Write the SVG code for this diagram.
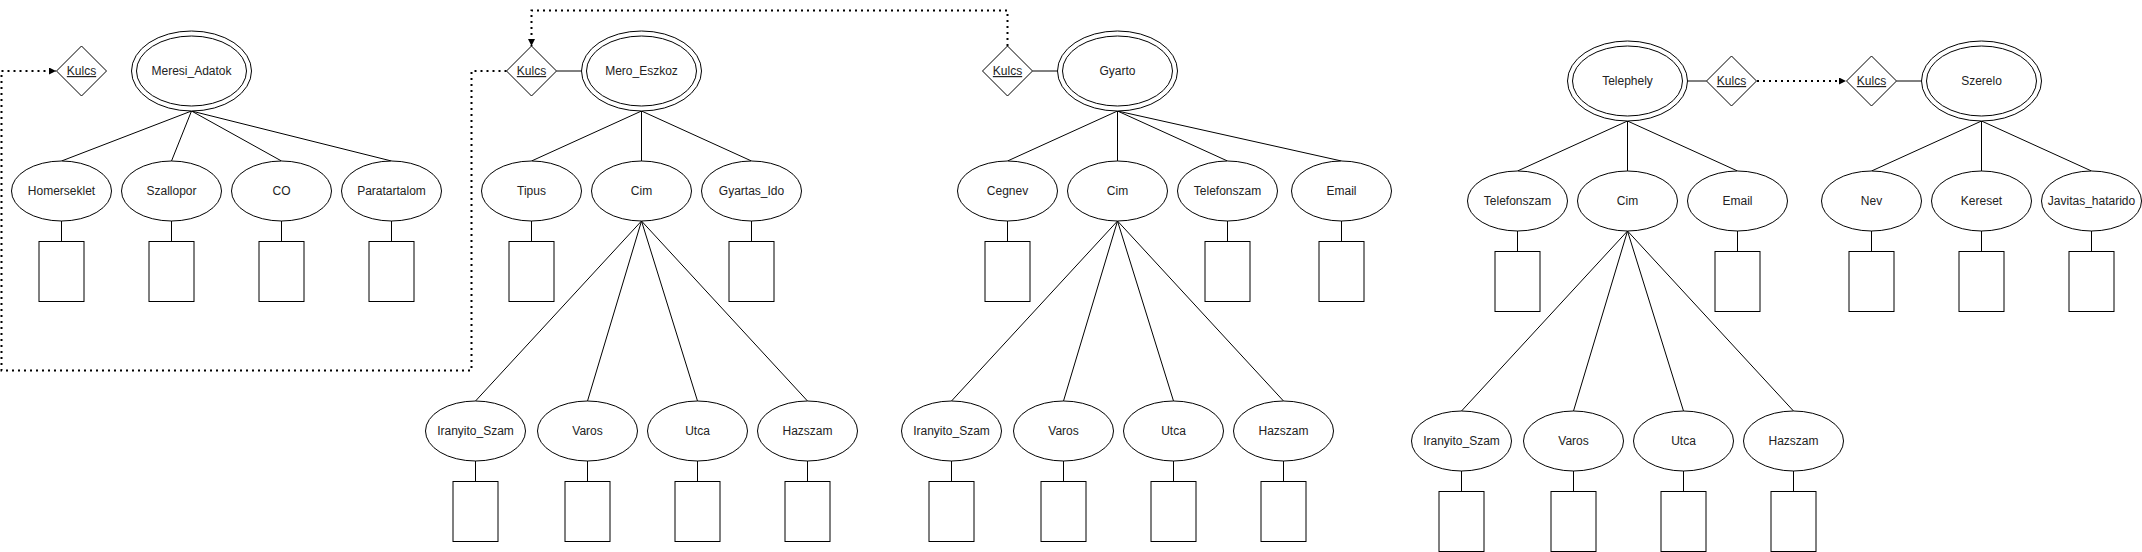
<svg xmlns="http://www.w3.org/2000/svg" width="2142" height="552" viewBox="0 0 2142 552">
<defs>
<style>
.s{fill:#fff;stroke:#000;stroke-width:1}
.n{fill:none;stroke:#000;stroke-width:1}
.l{stroke:#000;stroke-width:1;fill:none}
.d{stroke:#000;stroke-width:2;fill:none;stroke-dasharray:2 4}
text{font-family:"Liberation Sans",Arial,sans-serif;font-size:12px;fill:#222;text-anchor:middle}
.u{text-decoration:underline}
</style>
<marker id="arr" markerUnits="userSpaceOnUse" markerWidth="8" markerHeight="8" refX="7" refY="3.5" orient="auto">
<path d="M0,0 L7,3.5 L0,7 Z" fill="#000"/>
</marker>
</defs>
<rect width="2142" height="552" fill="#fff"/>

<g id="connectors">
<path class="d" d="M506.5 71 L471.5 71 L471.5 370.5 L1.5 370.5 L1.5 71 L56 71" marker-end="url(#arr)"/>
<path class="d" d="M1007.5 46 L1007.5 10.5 L531.5 10.5 L531.5 46" marker-end="url(#arr)"/>
<path class="d" d="M1757 81 L1846 81" marker-end="url(#arr)"/>
<path class="l" d="M191.5 111 L61.5 161 M191.5 111 L171.5 161 M191.5 111 L281.5 161 M191.5 111 L391.5 161"/>
<path class="l" d="M61.5 221 V241.5 M171.5 221 V241.5 M281.5 221 V241.5 M391.5 221 V241.5"/>
<path class="l" d="M556.5 71 H581.5"/>
<path class="l" d="M641.5 111 L531.5 161 M641.5 111 L641.5 161 M641.5 111 L751.5 161"/>
<path class="l" d="M531.5 221 V241.5 M751.5 221 V241.5"/>
<path class="l" d="M641.5 221 L475.5 401 M641.5 221 L587.5 401 M641.5 221 L697.5 401 M641.5 221 L807.5 401"/>
<path class="l" d="M475.5 461 V481.5 M587.5 461 V481.5 M697.5 461 V481.5 M807.5 461 V481.5"/>
<path class="l" d="M1032.5 71 H1057.5"/>
<path class="l" d="M1117.5 111 L1007.5 161 M1117.5 111 L1117.5 161 M1117.5 111 L1227.5 161 M1117.5 111 L1341.5 161"/>
<path class="l" d="M1007.5 221 V241.5 M1227.5 221 V241.5 M1341.5 221 V241.5"/>
<path class="l" d="M1117.5 221 L951.5 401 M1117.5 221 L1063.5 401 M1117.5 221 L1173.5 401 M1117.5 221 L1283.5 401"/>
<path class="l" d="M951.5 461 V481.5 M1063.5 461 V481.5 M1173.5 461 V481.5 M1283.5 461 V481.5"/>
<path class="l" d="M1687.5 81 H1706.5"/>
<path class="l" d="M1627.5 121 L1517.5 171 M1627.5 121 L1627.5 171 M1627.5 121 L1737.5 171"/>
<path class="l" d="M1517.5 231 V251.5 M1737.5 231 V251.5"/>
<path class="l" d="M1627.5 231 L1461.5 411 M1627.5 231 L1573.5 411 M1627.5 231 L1683.5 411 M1627.5 231 L1793.5 411"/>
<path class="l" d="M1461.5 471 V491.5 M1573.5 471 V491.5 M1683.5 471 V491.5 M1793.5 471 V491.5"/>
<path class="l" d="M1896.5 81 H1921.5"/>
<path class="l" d="M1981.5 121 L1871.5 171 M1981.5 121 L1981.5 171 M1981.5 121 L2091.5 171"/>
<path class="l" d="M1871.5 231 V251.5 M1981.5 231 V251.5 M2091.5 231 V251.5"/>
</g>

<g id="meresi_kulcs"><path class="s" d="M81.5 46 L106.5 71 L81.5 96 L56.5 71 Z"/><text x="81.5" y="75" class="u">Kulcs</text></g>
<g id="meresi_adatok"><ellipse class="s" cx="191.5" cy="71" rx="60" ry="40"/><ellipse class="n" cx="191.5" cy="71" rx="55" ry="35"/><text x="191.5" y="75">Meresi_Adatok</text></g>
<g id="homerseklet"><ellipse class="s" cx="61.5" cy="191" rx="50" ry="30"/><text x="61.5" y="195">Homerseklet</text><rect class="s" x="39" y="241.5" width="45" height="60"/></g>
<g id="szallopor"><ellipse class="s" cx="171.5" cy="191" rx="50" ry="30"/><text x="171.5" y="195">Szallopor</text><rect class="s" x="149" y="241.5" width="45" height="60"/></g>
<g id="co"><ellipse class="s" cx="281.5" cy="191" rx="50" ry="30"/><text x="281.5" y="195">CO</text><rect class="s" x="259" y="241.5" width="45" height="60"/></g>
<g id="paratartalom"><ellipse class="s" cx="391.5" cy="191" rx="50" ry="30"/><text x="391.5" y="195">Paratartalom</text><rect class="s" x="369" y="241.5" width="45" height="60"/></g>

<g id="mero_kulcs"><path class="s" d="M531.5 46 L556.5 71 L531.5 96 L506.5 71 Z"/><text x="531.5" y="75" class="u">Kulcs</text></g>
<g id="mero_eszkoz"><ellipse class="s" cx="641.5" cy="71" rx="60" ry="40"/><ellipse class="n" cx="641.5" cy="71" rx="55" ry="35"/><text x="641.5" y="75">Mero_Eszkoz</text></g>
<g id="tipus"><ellipse class="s" cx="531.5" cy="191" rx="50" ry="30"/><text x="531.5" y="195">Tipus</text><rect class="s" x="509" y="241.5" width="45" height="60"/></g>
<g id="mero_cim"><ellipse class="s" cx="641.5" cy="191" rx="50" ry="30"/><text x="641.5" y="195">Cim</text></g>
<g id="gyartas_ido"><ellipse class="s" cx="751.5" cy="191" rx="50" ry="30"/><text x="751.5" y="195">Gyartas_Ido</text><rect class="s" x="729" y="241.5" width="45" height="60"/></g>
<g id="mero_iranyito"><ellipse class="s" cx="475.5" cy="431" rx="50" ry="30"/><text x="475.5" y="435">Iranyito_Szam</text><rect class="s" x="453" y="481.5" width="45" height="60"/></g>
<g id="mero_varos"><ellipse class="s" cx="587.5" cy="431" rx="50" ry="30"/><text x="587.5" y="435">Varos</text><rect class="s" x="565" y="481.5" width="45" height="60"/></g>
<g id="mero_utca"><ellipse class="s" cx="697.5" cy="431" rx="50" ry="30"/><text x="697.5" y="435">Utca</text><rect class="s" x="675" y="481.5" width="45" height="60"/></g>
<g id="mero_hazszam"><ellipse class="s" cx="807.5" cy="431" rx="50" ry="30"/><text x="807.5" y="435">Hazszam</text><rect class="s" x="785" y="481.5" width="45" height="60"/></g>

<g id="gyarto_kulcs"><path class="s" d="M1007.5 46 L1032.5 71 L1007.5 96 L982.5 71 Z"/><text x="1007.5" y="75" class="u">Kulcs</text></g>
<g id="gyarto"><ellipse class="s" cx="1117.5" cy="71" rx="60" ry="40"/><ellipse class="n" cx="1117.5" cy="71" rx="55" ry="35"/><text x="1117.5" y="75">Gyarto</text></g>
<g id="cegnev"><ellipse class="s" cx="1007.5" cy="191" rx="50" ry="30"/><text x="1007.5" y="195">Cegnev</text><rect class="s" x="985" y="241.5" width="45" height="60"/></g>
<g id="gyarto_cim"><ellipse class="s" cx="1117.5" cy="191" rx="50" ry="30"/><text x="1117.5" y="195">Cim</text></g>
<g id="gyarto_telefonszam"><ellipse class="s" cx="1227.5" cy="191" rx="50" ry="30"/><text x="1227.5" y="195">Telefonszam</text><rect class="s" x="1205" y="241.5" width="45" height="60"/></g>
<g id="gyarto_email"><ellipse class="s" cx="1341.5" cy="191" rx="50" ry="30"/><text x="1341.5" y="195">Email</text><rect class="s" x="1319" y="241.5" width="45" height="60"/></g>
<g id="gyarto_iranyito"><ellipse class="s" cx="951.5" cy="431" rx="50" ry="30"/><text x="951.5" y="435">Iranyito_Szam</text><rect class="s" x="929" y="481.5" width="45" height="60"/></g>
<g id="gyarto_varos"><ellipse class="s" cx="1063.5" cy="431" rx="50" ry="30"/><text x="1063.5" y="435">Varos</text><rect class="s" x="1041" y="481.5" width="45" height="60"/></g>
<g id="gyarto_utca"><ellipse class="s" cx="1173.5" cy="431" rx="50" ry="30"/><text x="1173.5" y="435">Utca</text><rect class="s" x="1151" y="481.5" width="45" height="60"/></g>
<g id="gyarto_hazszam"><ellipse class="s" cx="1283.5" cy="431" rx="50" ry="30"/><text x="1283.5" y="435">Hazszam</text><rect class="s" x="1261" y="481.5" width="45" height="60"/></g>

<g id="telephely"><ellipse class="s" cx="1627.5" cy="81" rx="60" ry="40"/><ellipse class="n" cx="1627.5" cy="81" rx="55" ry="35"/><text x="1627.5" y="85">Telephely</text></g>
<g id="telephely_kulcs"><path class="s" d="M1731.5 56 L1756.5 81 L1731.5 106 L1706.5 81 Z"/><text x="1731.5" y="85" class="u">Kulcs</text></g>
<g id="telephely_telefonszam"><ellipse class="s" cx="1517.5" cy="201" rx="50" ry="30"/><text x="1517.5" y="205">Telefonszam</text><rect class="s" x="1495" y="251.5" width="45" height="60"/></g>
<g id="telephely_cim"><ellipse class="s" cx="1627.5" cy="201" rx="50" ry="30"/><text x="1627.5" y="205">Cim</text></g>
<g id="telephely_email"><ellipse class="s" cx="1737.5" cy="201" rx="50" ry="30"/><text x="1737.5" y="205">Email</text><rect class="s" x="1715" y="251.5" width="45" height="60"/></g>
<g id="telephely_iranyito"><ellipse class="s" cx="1461.5" cy="441" rx="50" ry="30"/><text x="1461.5" y="445">Iranyito_Szam</text><rect class="s" x="1439" y="491.5" width="45" height="60"/></g>
<g id="telephely_varos"><ellipse class="s" cx="1573.5" cy="441" rx="50" ry="30"/><text x="1573.5" y="445">Varos</text><rect class="s" x="1551" y="491.5" width="45" height="60"/></g>
<g id="telephely_utca"><ellipse class="s" cx="1683.5" cy="441" rx="50" ry="30"/><text x="1683.5" y="445">Utca</text><rect class="s" x="1661" y="491.5" width="45" height="60"/></g>
<g id="telephely_hazszam"><ellipse class="s" cx="1793.5" cy="441" rx="50" ry="30"/><text x="1793.5" y="445">Hazszam</text><rect class="s" x="1771" y="491.5" width="45" height="60"/></g>

<g id="szerelo_kulcs"><path class="s" d="M1871.5 56 L1896.5 81 L1871.5 106 L1846.5 81 Z"/><text x="1871.5" y="85" class="u">Kulcs</text></g>
<g id="szerelo"><ellipse class="s" cx="1981.5" cy="81" rx="60" ry="40"/><ellipse class="n" cx="1981.5" cy="81" rx="55" ry="35"/><text x="1981.5" y="85">Szerelo</text></g>
<g id="nev"><ellipse class="s" cx="1871.5" cy="201" rx="50" ry="30"/><text x="1871.5" y="205">Nev</text><rect class="s" x="1849" y="251.5" width="45" height="60"/></g>
<g id="kereset"><ellipse class="s" cx="1981.5" cy="201" rx="50" ry="30"/><text x="1981.5" y="205">Kereset</text><rect class="s" x="1959" y="251.5" width="45" height="60"/></g>
<g id="javitas_hatarido"><ellipse class="s" cx="2091.5" cy="201" rx="50" ry="30"/><text x="2091.5" y="205">Javitas_hatarido</text><rect class="s" x="2069" y="251.5" width="45" height="60"/></g>
</svg>
